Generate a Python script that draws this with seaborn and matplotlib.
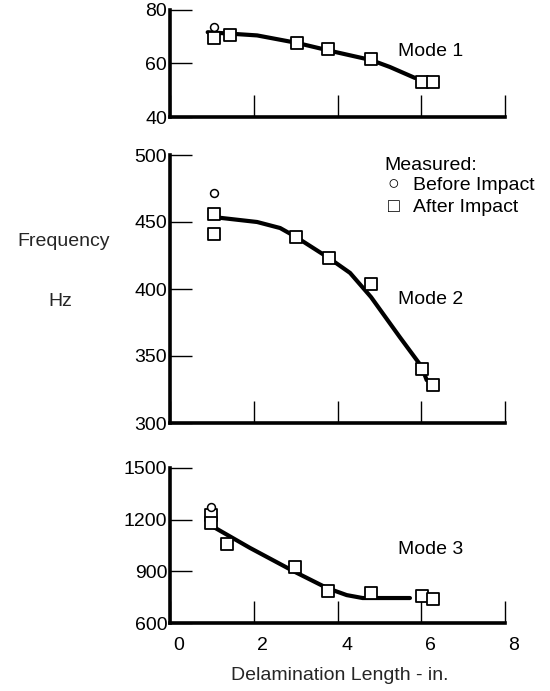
import matplotlib
matplotlib.use("Agg")
import matplotlib.pyplot as plt
import matplotlib.transforms as mtransforms
import seaborn as sns
import pandas as pd

# ---- data ----
# Mode 1
m1_before_x = [1.05]
m1_before_y = [73.6]
m1_after_x = [1.05, 1.43, 3.03, 3.77, 4.80, 6.01, 6.28]
m1_after_y = [69.5, 70.7, 67.7, 65.4, 61.7, 53.1, 53.1]
m1_curve_x = [0.90, 2.08, 3.03, 3.89, 4.80, 5.25, 5.85]
m1_curve_y = [71.7, 70.5, 67.7, 64.5, 61.3, 58.7, 54.6]

# Mode 2
m2_before_x = [1.05]
m2_before_y = [471.6]
m2_after_x = [1.05, 1.05, 3.01, 3.80, 4.80, 6.01, 6.28]
m2_after_y = [456.0, 441.0, 438.8, 423.0, 403.7, 340.3, 328.4]
m2_curve_x = [0.95, 2.08, 2.63, 3.00, 3.80, 4.30, 4.80, 5.49, 6.01, 6.13]
m2_curve_y = [454.0, 450.0, 445.5, 439.0, 423.0, 412.0, 394.0, 364.0, 342.0, 332.0]

# Mode 3
m3_before_x = [0.98]
m3_before_y = [1273]
m3_after_x = [0.98, 0.98, 1.36, 2.98, 3.77, 4.80, 6.01, 6.28]
m3_after_y = [1227, 1181, 1059, 925, 786, 774, 757, 739]
m3_curve_x = [1.00, 1.91, 2.98, 3.75, 4.22, 4.60, 5.73]
m3_curve_y = [1163, 1036, 897, 803, 762, 745, 745]

x_ticks = [0, 2, 4, 6, 8]
y_ticks_1 = [40, 60, 80]
y_ticks_2 = [300, 350, 400, 450, 500]
y_ticks_3 = [600, 900, 1200, 1500]
mode_labels = ["Mode 1", "Mode 2", "Mode 3"]

sns.set_theme(style="white")
plt.rcParams["font.family"] = ["Liberation Sans", "DejaVu Sans"]

FS = 14
W, H = 550, 691
fig = plt.figure(figsize=(5.5, 6.91), dpi=100)

def frame(px_left, px_top, px_right, px_bottom):
    return [px_left / W, 1 - px_bottom / H, (px_right - px_left) / W, (px_bottom - px_top) / H]

ax1 = fig.add_axes(frame(170, 10, 505, 117))
ax2 = fig.add_axes(frame(170, 155, 505, 423))
ax3 = fig.add_axes(frame(170, 468, 505, 623))

panels = [
    (ax1, m1_before_x, m1_before_y, m1_after_x, m1_after_y, m1_curve_x, m1_curve_y, y_ticks_1),
    (ax2, m2_before_x, m2_before_y, m2_after_x, m2_after_y, m2_curve_x, m2_curve_y, y_ticks_2),
    (ax3, m3_before_x, m3_before_y, m3_after_x, m3_after_y, m3_curve_x, m3_curve_y, y_ticks_3),
]

for i, (ax, bx, by, axx, ayy, cx, cy, yt) in enumerate(panels):
    curve = pd.DataFrame({"x": cx, "y": cy})
    sns.lineplot(data=curve, x="x", y="y", ax=ax, color="black", linewidth=3.0,
                 sort=False, estimator=None)
    after = pd.DataFrame({"x": axx, "y": ayy})
    sns.scatterplot(data=after, x="x", y="y", ax=ax, marker="s", s=70,
                    facecolor="white", edgecolor="black", linewidth=1.3, zorder=5)
    before = pd.DataFrame({"x": bx, "y": by})
    sns.scatterplot(data=before, x="x", y="y", ax=ax, marker="o", s=32,
                    facecolor="white", edgecolor="black", linewidth=1.1, zorder=5)

    ax.set_xlim(x_ticks[0], x_ticks[-1])
    ax.set_ylim(yt[0], yt[-1])
    ax.set_xticks(x_ticks)
    ax.set_yticks(yt)
    ax.set_xlabel("")
    ax.set_ylabel("")
    for s in ["top", "right"]:
        ax.spines[s].set_visible(False)
    for s in ["left", "bottom"]:
        ax.spines[s].set_linewidth(2.6)
        ax.spines[s].set_color("black")
    ax.tick_params(axis="both", which="major", direction="in", length=16, width=1.0,
                   colors="black", labelsize=FS, bottom=True, left=True,
                   top=False, right=False)
    ax.tick_params(axis="y", pad=2)
    if i < 2:
        ax.set_xticklabels([])
    ax.set_facecolor("none")

ax3.tick_params(axis="x", pad=10)
shift = mtransforms.ScaledTranslation(9 / 100, 0, fig.dpi_scale_trans)
for lab in ax3.get_xticklabels():
    lab.set_transform(lab.get_transform() + shift)

ax1.text(5.44, 64.3, mode_labels[0], fontsize=FS, color="black", va="center")
ax2.text(5.44, 391.8, mode_labels[1], fontsize=FS, color="black", va="center")
ax3.text(5.44, 1024, mode_labels[2], fontsize=FS, color="black", va="center")

ax2.text(5.13, 492.5, "Measured:", fontsize=FS, color="black", va="center")
ax2.text(5.20, 477.6, "\u25cb", fontsize=FS, color="black", va="center")
ax2.text(5.80, 477.6, "Before Impact", fontsize=FS, color="black", va="center")
ax2.text(5.20, 461.0, "\u25a1", fontsize=FS, color="black", va="center")
ax2.text(5.80, 461.0, "After Impact", fontsize=FS, color="black", va="center")

fig.text(64 / W, 1 - 241 / H, "Frequency", fontsize=FS, ha="center", va="center")
fig.text(60 / W, 1 - 301 / H, "Hz", fontsize=FS, ha="center", va="center")
fig.text(340 / W, 1 - 675 / H, "Delamination Length - in.", fontsize=FS,
         ha="center", va="center")

fig.savefig("out.png", dpi=100, facecolor="white")
